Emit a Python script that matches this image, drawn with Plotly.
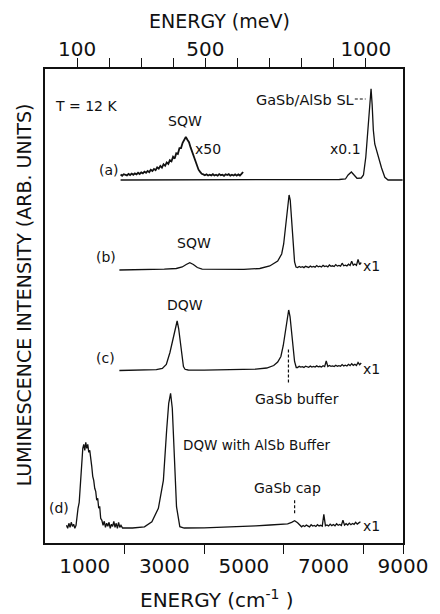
import plotly.graph_objects as go

CM_PER_MEV = 8.0655

# ---------------- data ----------------
# y values are relative intensities above each trace's baseline (arb. units)
OFFSETS = {"a": 363.0, "b": 273.0, "c": 172.5, "d": 14.7}

# (a) GaSb/AlSb SL spectrum (x0.1)
A_X = [1900, 3000, 4000, 5000, 6000, 7000, 7400, 7553, 7620, 7702, 7780, 7843,
       7950, 8006, 8065, 8130, 8170, 8197, 8225, 8254, 8290, 8320, 8378, 8461,
       8543, 8625, 8800, 8990]
A_Y = [0, 0, 0, 0, 0, 0.2, 0.5, 1.0, 5.0, 8.0, 4.0, 1.7,
       2.0, 5.0, 23.0, 56.7, 82.0, 91.3, 75.0, 50.0, 36.0, 31.7, 25.0, 12.0,
       2.7, 0.0, 0.0, 0.0]

# (a) SQW segment (x50), sampled every 40 cm-1 from 1900 cm-1
A_SQW_START, SAMPLE_STEP = 1900, 40
A_SQW_Y = [5.5, 4.3, 5.8, 5.0, 4.6, 6.1, 5.0, 6.4, 5.2, 6.6,
           5.6, 7.2, 6.0, 7.6, 6.7, 8.4, 7.2, 9.1, 7.9, 10.2,
           9.0, 11.1, 9.9, 12.7, 11.3, 14.1, 12.4, 15.8, 14.2, 17.6,
           16.1, 19.8, 18.6, 23.2, 21.4, 26.8, 26.0, 31.8, 31.9, 37.2,
           39.6, 43.0, 40.2, 37.8, 32.6, 28.3, 23.2, 18.4, 14.1, 10.3,
           8.1, 6.2, 5.6, 4.7, 5.7, 4.5, 5.3, 4.6, 5.8, 4.5,
           5.2, 4.3, 5.9, 4.8, 5.3, 4.2, 5.7, 4.9, 5.8, 4.4,
           5.3, 4.5, 5.6, 4.4, 5.6, 4.5, 6.1, 8.0]

# (b) SQW sample
B_X = [1870, 2500, 3000, 3300, 3450, 3550, 3640, 3730, 3830, 3950, 4500, 5000,
       5400, 5650, 5850, 5950, 6000, 6040, 6080, 6110, 6136, 6165, 6195, 6226,
       6255, 6274, 6310]
B_Y = [0, 0.3, 0.8, 1.5, 3.0, 5.5, 7.3, 5.5, 2.5, 0.8, 0.5, 0.7,
       1.5, 4.0, 9.0, 16.0, 26.0, 42.0, 60.0, 70.0, 75.0, 70.0, 55.0, 38.0,
       18.0, 8.0, 3.0]
B_NOISE_START = 6350
B_NOISE_Y = [2.5, 3.6, 2.7, 3.3, 2.4, 3.7, 2.9, 2.6, 3.9, 3.0,
             3.5, 2.8, 4.4, 3.2, 3.8, 3.0, 4.6, 3.4, 4.0, 3.1,
             5.0, 3.7, 4.2, 3.5, 5.4, 3.9, 4.5, 3.8, 6.8, 4.2,
             4.9, 4.1, 5.8, 4.5, 8.8, 4.8, 6.0, 4.6, 10.5, 5.4,
             7.5]

# (c) DQW sample
C_X = [1870, 2400, 2800, 2950, 3050, 3141, 3220, 3280, 3322, 3360, 3400, 3446,
       3480, 3520, 3600, 4000, 4500, 5000, 5300, 5574, 5750, 5850, 5930, 5990,
       6040, 6090, 6126, 6160, 6200, 6240, 6274, 6316]
C_Y = [0, 0.5, 0.8, 2.0, 6.0, 18.0, 32.0, 44.0, 49.5, 42.0, 28.0, 13.0,
       4.0, 1.2, 0.5, 0.3, 0.5, 0.8, 1.3, 2.5, 5.0, 8.5, 14.0, 25.0,
       40.0, 55.0, 60.5, 54.0, 38.0, 20.0, 9.0, 3.0]
C_NOISE_START = 6350
C_NOISE_Y = [3.0, 4.2, 3.4, 3.9, 3.1, 4.3, 3.6, 3.2, 4.4, 3.5,
             4.0, 3.4, 4.6, 3.7, 4.2, 3.5, 4.8, 3.9, 9.5, 4.0,
             5.0, 4.1, 4.6, 3.9, 5.3, 4.3, 4.8, 4.2, 5.9, 4.6,
             5.3, 4.5, 6.2, 4.9, 6.8, 5.2, 6.3, 5.0, 8.0, 5.8,
             7.5]

# (d) DQW with AlSb buffer
D_X = [540, 570, 600, 630, 660, 690, 720, 750, 780, 800, 830, 860, 890, 920,
       950, 975, 1000, 1025, 1050, 1075, 1100, 1125, 1150, 1175, 1200, 1225,
       1250, 1275, 1300, 1325, 1350, 1375, 1400, 1430, 1460, 1490, 1520, 1550,
       1580, 1610, 1640, 1670, 1700, 1730, 1760, 1790, 1820, 1850, 1880, 1910,
       1950, 2200, 2500, 2687, 2850, 2976, 3058, 3110, 3157, 3200, 3224, 3270,
       3306, 3389, 3500, 4000, 4500, 5000, 5300, 5656, 5900, 6100, 6200, 6275,
       6350, 6420]
D_Y = [3, 0, 5, 1, 6, 2, 4, 0, 3, 12, 20, 26, 45, 68,
       80, 84, 78, 86, 80, 84, 76, 78, 66, 62, 52, 48,
       40, 37, 28, 30, 20, 22, 10, 8, 3, 7, 1, 5,
       2, 6, 0, 4, 2, 7, 1, 5, 0, 6, 1, 3,
       0.3, 0.3, 1.5, 6.6, 20, 48, 98, 125, 135, 120, 98, 55,
       21.6, 1.6, 0.3, 0.5, 1.0, 1.5, 2.5, 3.3, 4.0, 4.5, 6.0, 7.6,
       5.5, 2.5]
D_NOISE_START = 6450
D_NOISE_Y = [1.5, 2.8, 1.8, 3.2, 2.0, 1.4, 3.5, 2.2, 2.9, 1.8,
             3.6, 2.4, 3.0, 2.1, 14.0, 2.6, 3.4, 2.3, 4.2, 2.7,
             3.8, 2.5, 4.5, 3.0, 3.9, 2.8, 8.0, 3.2, 4.6, 3.3,
             5.2, 3.6, 4.8, 3.9, 6.0, 4.2, 5.4, 6.5]

BOTTOM_LABELS = [1000, 3000, 5000, 7000, 9000]
BOTTOM_MINOR = [2000, 4000, 6000, 8000, 9000]
TOP_LABELS = [100, 500, 1000]
TOP_MINOR = [100, 200, 300, 400, 500, 600, 700, 800, 900, 1000]

BUFFER_MARK_X = 6120   # GaSb buffer position (cm-1)
CAP_MARK_X = 6275      # GaSb cap position (cm-1)

# ---------------- figure ----------------
W, H = 440, 614
ML, MR, MT, MB = 45, 31, 69, 71
L, R, T, B = ML, W - MR, MT, H - MB
FONT = "DejaVu Sans"
INK = "#111111"


def grid(start, n):
    return [start + SAMPLE_STEP * i for i in range(n)]


def shift(vals, off):
    return [v + off for v in vals]


def px(x):
    return (x - L) / (R - L)


def py(y):
    return (B - y) / (B - T)


fig = go.Figure()
line = dict(color=INK, width=1.3)

fig.add_trace(go.Scatter(x=A_X, y=shift(A_Y, OFFSETS["a"]), mode="lines", line=line))
fig.add_trace(go.Scatter(x=grid(A_SQW_START, len(A_SQW_Y)), y=shift(A_SQW_Y, OFFSETS["a"]),
                         mode="lines", line=dict(color=INK, width=1.8)))
fig.add_trace(go.Scatter(x=B_X + grid(B_NOISE_START, len(B_NOISE_Y)),
                         y=shift(B_Y + B_NOISE_Y, OFFSETS["b"]), mode="lines", line=line))
fig.add_trace(go.Scatter(x=C_X + grid(C_NOISE_START, len(C_NOISE_Y)),
                         y=shift(C_Y + C_NOISE_Y, OFFSETS["c"]), mode="lines", line=line))
fig.add_trace(go.Scatter(x=D_X + grid(D_NOISE_START, len(D_NOISE_Y)),
                         y=shift(D_Y + D_NOISE_Y, OFFSETS["d"]), mode="lines", line=line))
# anchor trace so the top (meV) axis is rendered; it draws nothing
fig.add_trace(go.Scatter(x=TOP_LABELS, y=[None] * len(TOP_LABELS), xaxis="x2",
                         mode="lines", hoverinfo="skip"))

ann = []


def label(text, x, y, size=14, **kw):
    d = dict(text=text, x=px(x), y=py(y), xref="paper", yref="paper", showarrow=False,
             font=dict(family=FONT, size=size, color=INK), xanchor="center", yanchor="middle")
    d.update(kw)
    ann.append(d)


label("T = 12 K", 87, 106)
label("SQW", 187, 121)
label("x50", 211, 149)
label("(a)", 110, 170)
label("x0.1", 351, 149)
label("GaSb/AlSb SL", 257, 100, size=14.5, xanchor="left")
label("SQW", 197, 243)
label("(b)", 107, 257)
label("x1", 377, 266)
label("DQW", 187, 305)
label("(c)", 107, 358)
label("x1", 377, 369)
label("GaSb buffer", 301, 399)
label("DQW with AlSb Buffer", 260, 445, size=13.5)
label("GaSb cap", 292, 488)
label("(d)", 59, 508)
label("x1", 377, 526)
# axis titles
label("ENERGY (meV)", 222, 21, size=19)
label("ENERGY (cm<sup>-1</sup> )", 220, 599, size=20)
label("LUMINESCENCE INTENSITY (ARB. UNITS)", 24, 295, size=19, textangle=-90)

shapes = [
    dict(type="line", xref="paper", yref="paper", x0=px(360), x1=px(371), y0=py(99), y1=py(99),
         line=dict(color=INK, width=1.2, dash="3px,2px")),
    dict(type="line", xref="x", yref="y", x0=BUFFER_MARK_X, x1=BUFFER_MARK_X,
         y0=OFFSETS["c"] - 12, y1=OFFSETS["c"] + 22, line=dict(color=INK, width=1.2, dash="3px,2px")),
    dict(type="line", xref="x", yref="y", x0=CAP_MARK_X, x1=CAP_MARK_X,
         y0=OFFSETS["d"] + 15, y1=OFFSETS["d"] + 30, line=dict(color=INK, width=1.2, dash="3px,2px")),
]

tickfont = dict(family=FONT, size=20, color=INK)
fig.update_layout(
    width=W, height=H, margin=dict(l=ML, r=MR, t=MT, b=MB, pad=0),
    paper_bgcolor="white", plot_bgcolor="white", showlegend=False,
    annotations=ann, shapes=shapes,
    xaxis=dict(range=[0, 9000], tickmode="array", tickvals=BOTTOM_LABELS,
               ticks="outside", ticklen=4, tickcolor="rgba(0,0,0,0)", tickfont=tickfont,
               showline=True, linecolor=INK, linewidth=1.6, showgrid=False, zeroline=False,
               minor=dict(tickmode="array", tickvals=BOTTOM_MINOR, ticks="outside",
                          ticklen=9, tickwidth=1.4, tickcolor=INK, showgrid=False)),
    xaxis2=dict(range=[0, 9000 / CM_PER_MEV], overlaying="x", side="top", anchor="y",
                tickmode="array", tickvals=TOP_LABELS,
                ticks="outside", ticklen=3, tickcolor="rgba(0,0,0,0)", tickfont=tickfont,
                showline=True, linecolor=INK, linewidth=1.6, showgrid=False, zeroline=False,
                minor=dict(tickmode="array", tickvals=TOP_MINOR, ticks="outside",
                           ticklen=9, tickwidth=1.4, tickcolor=INK, showgrid=False)),
    yaxis=dict(range=[0, B - T], showticklabels=False, ticks="", showgrid=False,
               zeroline=False, showline=True, mirror=True, linecolor=INK, linewidth=1.6),
)

fig.write_html("out.html")
